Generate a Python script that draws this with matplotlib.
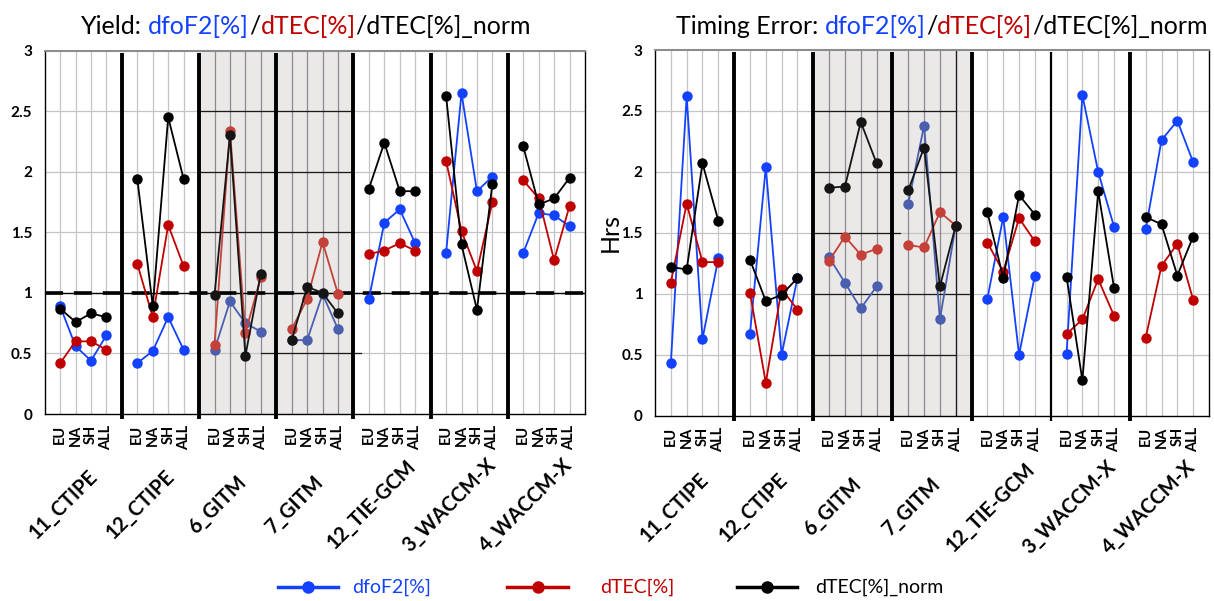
import numpy as np
import matplotlib.pyplot as plt
from matplotlib.lines import Line2D
import matplotlib.transforms as mtransforms

plt.rcParams['font.family'] = ['Lato', 'DejaVu Sans']

groups = ["11_CTIPE", "12_CTIPE", "6_GITM", "7_GITM", "12_TIE-GCM", "3_WACCM-X", "4_WACCM-X"]
regions = ["EU", "NA", "SH", "ALL"]

# yield panel
fof2_yield = [[0.89, 0.56, 0.44, 0.65], [0.42, 0.52, 0.80, 0.53], [0.53, 0.93, 0.75, 0.68],
              [0.61, 0.61, 0.99, 0.70], [0.95, 1.58, 1.69, 1.41], [1.33, 2.65, 1.84, 1.96],
              [1.33, 1.66, 1.64, 1.55]]
tec_yield = [[0.42, 0.60, 0.60, 0.53], [1.24, 0.80, 1.56, 1.22], [0.57, 2.34, 0.67, 1.13],
             [0.70, 0.95, 1.42, 0.99], [1.32, 1.35, 1.41, 1.35], [2.09, 1.51, 1.18, 1.75],
             [1.93, 1.78, 1.27, 1.72]]
tecn_yield = [[0.87, 0.76, 0.83, 0.80], [1.94, 0.89, 2.45, 1.94], [0.98, 2.30, 0.48, 1.16],
              [0.61, 1.05, 1.00, 0.83], [1.86, 2.24, 1.84, 1.84], [2.63, 1.40, 0.86, 1.90],
              [2.21, 1.73, 1.78, 1.95]]

# timing error panel
fof2_timing = [[0.43, 2.62, 0.63, 1.29], [0.67, 2.04, 0.50, 1.13], [1.30, 1.09, 0.88, 1.06],
               [1.74, 2.38, 0.79, 1.56], [0.96, 1.63, 0.50, 1.15], [0.51, 2.63, 2.00, 1.55],
               [1.53, 2.26, 2.42, 2.08]]
tec_timing = [[1.09, 1.74, 1.26, 1.26], [1.01, 0.27, 1.04, 0.87], [1.27, 1.47, 1.32, 1.37],
              [1.40, 1.38, 1.67, 1.56], [1.42, 1.18, 1.62, 1.43], [0.67, 0.79, 1.12, 0.82],
              [0.64, 1.23, 1.41, 0.95]]
tecn_timing = [[1.22, 1.20, 2.07, 1.60], [1.28, 0.94, 0.99, 1.13], [1.87, 1.88, 2.41, 2.07],
               [1.85, 2.20, 1.06, 1.56], [1.67, 1.13, 1.81, 1.65], [1.14, 0.29, 1.84, 1.05],
               [1.63, 1.57, 1.15, 1.47]]

BLUE = '#1241ff'
RED = '#c00000'
BLACK = '#000000'
# the shaded (GITM) groups show washed out colours
muted = {BLUE: '#4a5fae', RED: '#c4413a', BLACK: '#151515'}
shaded_groups = [2, 3]

fig = plt.figure(figsize=(12.14, 6.01), dpi=100)
W, H = 1214, 601


def px_axes(x0, y0, x1, y1):
    return fig.add_axes([x0 / W, 1 - y1 / H, (x1 - x0) / W, (y1 - y0) / H])


def draw_panel(ax, series, dashed_one, dark_hlines, thin_sep=()):
    ng = len(groups)
    ax.set_xlim(0, 5 * ng)
    ax.set_ylim(0, 3)
    ax.axvspan(10, 20, color='#ebe8e8', zorder=0, lw=0)

    cat_x = [5 * g + c + 1 for g in range(ng) for c in range(len(regions))]
    for y in [0.5, 1, 1.5, 2, 2.5]:
        ax.axhline(y, color='#c4c4c4', lw=0.9, zorder=1)
    for x in cat_x:
        col = '#8a8a8a' if 10 < x < 20 else '#c4c4c4'
        ax.axvline(x, color=col, lw=0.9, zorder=1)
    for y, xa, xb in dark_hlines:
        ax.plot([xa, xb], [y, y], color='#1a1a1a', lw=0.9, zorder=1.5)

    if dashed_one:
        ax.axhline(1, color='black', lw=1.0, zorder=2)
        ax.axhline(1, color='black', lw=2.6, dashes=(5, 3), zorder=2)

    for g in range(1, ng):
        lw = 1.6 if g in thin_sep else 2.8
        ax.plot([5 * g, 5 * g], [-0.04, 2.98], color='black', lw=lw,
                solid_capstyle='butt', clip_on=False, zorder=3)

    for vals, col in series:
        for g in range(ng):
            c = muted[col] if g in shaded_groups else col
            xs = [5 * g + i + 1 for i in range(len(regions))]
            ax.plot(xs, vals[g], color=c, lw=1.3, marker='o', markersize=7.5,
                    markeredgewidth=0, zorder=4)

    ax.set_yticks([0, 0.5, 1, 1.5, 2, 2.5, 3])
    ax.set_yticklabels(['0', '0.5', '1', '1.5', '2', '2.5', '3'], fontweight='bold', fontsize=11)
    ax.set_xticks(cat_x)
    ax.set_xticklabels(regions * ng, rotation=90, fontweight='bold', fontsize=10.5)
    ax.tick_params(length=0)
    ax.tick_params(axis='y', pad=9)
    ax.tick_params(axis='x', pad=8)
    for s in ['left', 'bottom', 'right']:
        ax.spines[s].set_color('black')
        ax.spines[s].set_linewidth(1.0)
    ax.spines['top'].set_color('#8c8c8c')
    ax.spines['top'].set_linewidth(1.5)

    trans = mtransforms.blended_transform_factory(ax.transData, ax.transAxes)
    for g, name in enumerate(groups):
        ax.text(5 * g + 2.5 - 1.3, -0.25, name, transform=trans, rotation=45,
                ha='center', va='center', fontweight='bold', fontsize=14.5)


ax1 = px_axes(44.7, 50.7, 585, 414)
draw_panel(ax1, [(fof2_yield, BLUE), (tec_yield, RED), (tecn_yield, BLACK)], True,
           [(2.5, 10, 20), (2.0, 10, 20), (1.5, 10, 20), (0.5, 14, 20.5)])

ax2 = px_axes(655, 50, 1209, 415.7)
draw_panel(ax2, [(fof2_timing, BLUE), (tec_timing, RED), (tecn_timing, BLACK)], False,
           [(2.5, 10, 19), (2.0, 10, 19), (1.5, 10, 15.5), (1.0, 10, 20), (0.5, 10, 19)],
           thin_sep=(5,))
ax2.plot([19, 19], [0, 3], color='#1a1a1a', lw=0.9, zorder=1.5)

fig.text(610 / W, 1 - 233 / H, 'Hrs', rotation=90, ha='center', va='center', fontsize=18)

# multi coloured titles
renderer = fig.canvas.get_renderer()


def text_width(s, size):
    t = fig.text(0, 0, s, fontsize=size)
    w = t.get_window_extent(renderer).width
    t.remove()
    return w


def colour_title(pieces, cx, y, size):
    sp = text_width('a a', size) - text_width('aa', size)
    widths = [text_width(s.strip(), size) + sp * (s.startswith(' ')) for s, c in pieces]
    x = cx - sum(widths) / 2
    for (s, c), w in zip(pieces, widths):
        off = sp if s.startswith(' ') else 0
        fig.text((x + off) / W, 1 - y / H, s.strip(), color=c, fontsize=size, va='baseline')
        x += w


colour_title([('Yield:', BLACK), (' dfoF2[%]', BLUE), ('/', BLACK), ('dTEC[%]', RED),
              ('/dTEC[%]_norm', BLACK)], 306, 34, 18)
colour_title([('Timing Error:', BLACK), (' dfoF2[%]', BLUE), ('/', BLACK), ('dTEC[%]', RED),
              ('/dTEC[%]_norm', BLACK)], 942, 34, 18)

# legend drawn as figure artists
legend_items = [('dfoF2[%]', BLUE, 278, 338, 352), ('dTEC[%]', RED, 507, 568, 600),
                ('dTEC[%]_norm', BLACK, 737, 797, 815)]
ly = 1 - 587 / H
for label, col, x0, x1, tx in legend_items:
    fig.add_artist(Line2D([x0 / W, x1 / W], [ly, ly], color=col, lw=2.5))
    fig.add_artist(Line2D([(x0 + x1) / 2 / W], [ly], color=col, marker='o', markersize=8, lw=0))
    fig.text(tx / W, ly, label, color=col, fontsize=14, va='center')

fig.savefig('out.png', dpi=100)
